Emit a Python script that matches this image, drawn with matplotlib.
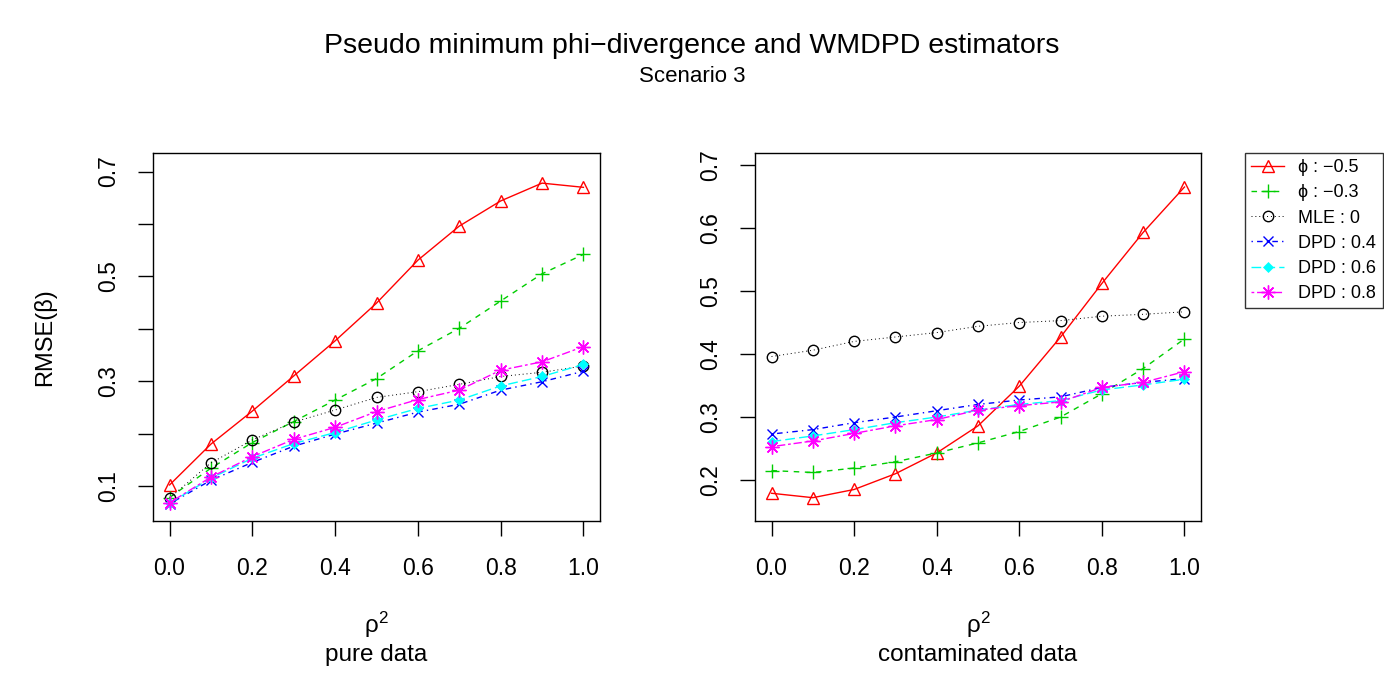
import numpy as np
import matplotlib
matplotlib.use('Agg')
import matplotlib.pyplot as plt

plt.rcParams['font.family'] = ['Liberation Sans', 'DejaVu Sans']
plt.rcParams['mathtext.fontset'] = 'custom'
plt.rcParams['mathtext.rm'] = 'Liberation Sans'
plt.rcParams['mathtext.it'] = 'Liberation Sans'

rho2 = [0.0, 0.1, 0.2, 0.3, 0.4, 0.5, 0.6, 0.7, 0.8, 0.9, 1.0]

labels = ['\u03d5 : \u22120.5', '\u03d5 : \u22120.3', 'MLE : 0',
          'DPD : 0.4', 'DPD : 0.6', 'DPD : 0.8']

# pure data
pure_phi_m05 = [0.102, 0.180, 0.243, 0.310, 0.377, 0.449, 0.531, 0.596, 0.644, 0.678, 0.670]
pure_phi_m03 = [0.078, 0.134, 0.183, 0.223, 0.264, 0.305, 0.358, 0.401, 0.453, 0.505, 0.542]
pure_mle = [0.077, 0.144, 0.188, 0.222, 0.245, 0.269, 0.280, 0.294, 0.309, 0.317, 0.329]
pure_dpd04 = [0.066, 0.111, 0.145, 0.176, 0.199, 0.220, 0.241, 0.256, 0.283, 0.299, 0.319]
pure_dpd06 = [0.067, 0.115, 0.153, 0.181, 0.202, 0.226, 0.248, 0.264, 0.291, 0.309, 0.332]
pure_dpd08 = [0.068, 0.117, 0.156, 0.189, 0.212, 0.242, 0.265, 0.283, 0.321, 0.337, 0.366]

# contaminated data
cont_phi_m05 = [0.179, 0.172, 0.185, 0.210, 0.243, 0.286, 0.349, 0.427, 0.512, 0.593, 0.665]
cont_phi_m03 = [0.215, 0.212, 0.219, 0.229, 0.243, 0.259, 0.277, 0.300, 0.337, 0.377, 0.424]
cont_mle = [0.396, 0.406, 0.420, 0.427, 0.434, 0.444, 0.450, 0.453, 0.460, 0.463, 0.467]
cont_dpd04 = [0.273, 0.280, 0.291, 0.300, 0.310, 0.320, 0.327, 0.332, 0.347, 0.355, 0.361]
cont_dpd06 = [0.261, 0.270, 0.280, 0.291, 0.300, 0.311, 0.320, 0.326, 0.343, 0.351, 0.360]
cont_dpd08 = [0.253, 0.262, 0.274, 0.286, 0.296, 0.311, 0.318, 0.324, 0.347, 0.355, 0.372]

xticks = [0.0, 0.2, 0.4, 0.6, 0.8, 1.0]
xticklabels = ['0.0', '0.2', '0.4', '0.6', '0.8', '1.0']
left_yticks = [0.1, 0.2, 0.3, 0.4, 0.5, 0.6, 0.7]
left_yticklabels = ['0.1', '', '0.3', '', '0.5', '', '0.7']
right_yticks = [0.2, 0.3, 0.4, 0.5, 0.6, 0.7]
right_yticklabels = ['0.2', '0.3', '0.4', '0.5', '0.6', '0.7']

styles = [
    dict(color='red', ls='-', marker='^', mfc='none', ms=9, mew=1.0),
    dict(color='#00cd00', ls=(0, (4, 4)), marker='+', ms=10, mew=1.0),
    dict(color='black', ls=(0, (1, 3)), marker='o', mfc='none', ms=7.5, mew=1.0, lw=0.7),
    dict(color='blue', ls=(0, (1, 3, 4, 3)), marker='x', ms=7.5, mew=1.0),
    dict(color='cyan', ls=(0, (7, 3)), marker='D', ms=5, mew=0.5),
    dict(color='magenta', ls=(0, (2, 2, 6, 2)), marker=(8, 2, 0), ms=10, mew=1.0),
]

fig = plt.figure(figsize=(13.84, 6.75), dpi=100)
ax1 = fig.add_axes([153 / 1384, 1 - 521 / 675, 447 / 1384, 368 / 675])
ax2 = fig.add_axes([755 / 1384, 1 - 521 / 675, 446 / 1384, 368 / 675])

pure = [pure_phi_m05, pure_phi_m03, pure_mle, pure_dpd04, pure_dpd06, pure_dpd08]
cont = [cont_phi_m05, cont_phi_m03, cont_mle, cont_dpd04, cont_dpd06, cont_dpd08]

handles = []
for s, yp, yc, lab in zip(styles, pure, cont, labels):
    kw = dict(s)
    kw.setdefault('lw', 1.0)
    h, = ax1.plot(rho2, yp, label=lab, **kw)
    ax2.plot(rho2, yc, **kw)
    handles.append(h)

for ax, yt, ytl, ylim, sub in [(ax1, left_yticks, left_yticklabels, (0.0332, 0.7355), 'pure data'),
                               (ax2, right_yticks, right_yticklabels, (0.135, 0.719), 'contaminated data')]:
    ax.set_xlim(-0.04, 1.04)
    ax.set_ylim(*ylim)
    ax.set_xticks(xticks)
    ax.set_xticklabels(xticklabels)
    ax.set_yticks(yt)
    ax.set_yticklabels(ytl, rotation=90, va='center')
    ax.tick_params(axis='both', direction='out', length=11, width=1.0, labelsize=16.5, color='black')
    ax.tick_params(axis='x', pad=15)
    ax.tick_params(axis='y', pad=13)
    for sp in ax.spines.values():
        sp.set_linewidth(1.0)
        sp.set_color('black')
    ax.text(0.5, -0.281, '\u03c1$^2$', transform=ax.transAxes, ha='center', va='center', fontsize=17.5)
    ax.text(0.5, -0.364, sub, transform=ax.transAxes, ha='center', va='center', fontsize=17.5)

ax1.text(-0.242, 0.5, 'RMSE(\u03b2)', transform=ax1.transAxes, rotation=90,
         ha='center', va='center', fontsize=17)

fig.text(0.5, 1 - 46 / 675, 'Pseudo minimum phi\u2212divergence and WMDPD estimators',
         ha='center', va='center', fontsize=20.5)
fig.text(0.5, 1 - 77 / 675, 'Scenario 3', ha='center', va='center', fontsize=16)

leg = fig.legend(handles=handles, loc='upper left', bbox_to_anchor=(1245 / 1384, 1 - 153 / 675),
                 fontsize=13, frameon=True, fancybox=False, handlelength=1.8,
                 handletextpad=0.8, labelspacing=0.45, borderpad=0.35, borderaxespad=0)
leg.get_frame().set_edgecolor('black')
leg.get_frame().set_linewidth(1.0)

fig.savefig('out.png', dpi=100)
